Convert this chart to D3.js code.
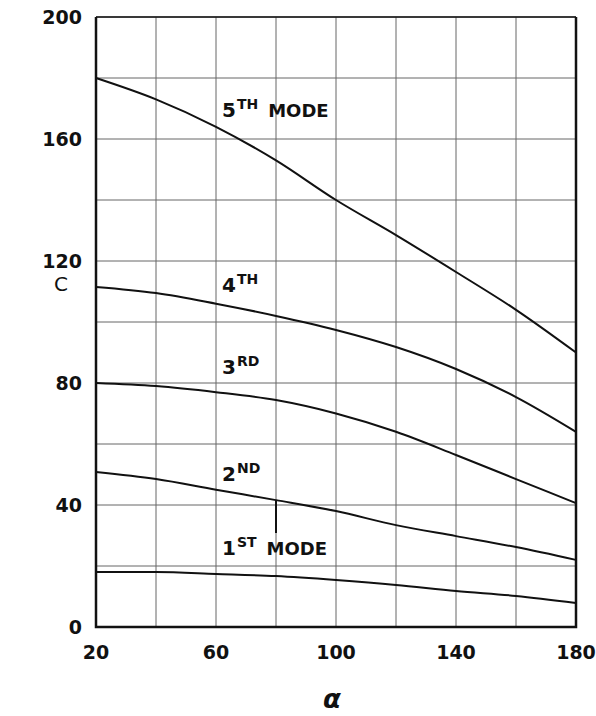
<!DOCTYPE html>
<html>
<head>
<meta charset="utf-8">
<script src="https://cdn.jsdelivr.net/npm/d3@7"></script>
<style>
  body { margin: 0; background: #fff; }
  text { font-family: "DejaVu Sans", "Noto Sans", sans-serif; font-weight: bold; fill: #111; }
</style>
</head>
<body>
<div id="chart"></div>
<script>
const width = 596;
const height = 716;

// values
const alpha = [20, 40, 60, 80, 100, 120, 140, 160, 180];
const mode1 = [18, 18, 17.4, 16.7, 15.4, 13.8, 11.8, 10.2, 7.9];
const mode2 = [50.8, 48.5, 45, 41.6, 38, 33.4, 29.8, 26.2, 22];
const mode3 = [80, 79, 77, 74.4, 70, 64, 56.4, 48.5, 40.6];
const mode4 = [111.5, 109.5, 106, 102, 97.4, 91.8, 84.6, 75.4, 64];
const mode5 = [180, 173, 164, 153, 140, 128.5, 116.4, 104, 90];
const modes = [mode1, mode2, mode3, mode4, mode5];

const xTicks = [20, 60, 100, 140, 180];
const yTicks = [0, 40, 80, 120, 160, 200];
const gridX = d3.range(20, 181, 20);
const gridY = d3.range(0, 201, 20);

// curve labels: number, superscript, trailing word, anchor in data units
const labels = [
  { num: "5", sup: "TH", word: "MODE", a: 62, c: 167.2 },
  { num: "4", sup: "TH", word: "", a: 62, c: 109.8 },
  { num: "3", sup: "RD", word: "", a: 62, c: 83 },
  { num: "2", sup: "ND", word: "", a: 62, c: 47.9 },
  { num: "1", sup: "ST", word: "MODE", a: 62, c: 23.6 }
];

const svg = d3.select("#chart")
  .append("svg")
  .attr("width", width)
  .attr("height", height);

const x = d3.scaleLinear().domain([20, 180]).range([96, 576]);
const y = d3.scaleLinear().domain([0, 200]).range([627, 17]);

// grid
svg.append("g")
  .selectAll("line")
  .data(gridX)
  .join("line")
  .attr("x1", d => x(d)).attr("x2", d => x(d))
  .attr("y1", y(0)).attr("y2", y(200))
  .attr("stroke", "#666")
  .attr("stroke-width", 1);

svg.append("g")
  .selectAll("line")
  .data(gridY)
  .join("line")
  .attr("x1", x(20)).attr("x2", x(180))
  .attr("y1", d => y(d)).attr("y2", d => y(d))
  .attr("stroke", "#666")
  .attr("stroke-width", 1);

// frame
svg.append("line")
  .attr("x1", x(20)).attr("x2", x(180))
  .attr("y1", y(200)).attr("y2", y(200))
  .attr("stroke", "#111").attr("stroke-width", 1.6);
svg.append("path")
  .attr("d", `M${x(20)},${y(200)}V${y(0)}H${x(180)}V${y(200)}`)
  .attr("fill", "none")
  .attr("stroke", "#111")
  .attr("stroke-width", 2.5);

// curves
const line = d3.line()
  .x((d, i) => x(alpha[i]))
  .y(d => y(d))
  .curve(d3.curveMonotoneX);

svg.append("g")
  .selectAll("path")
  .data(modes)
  .join("path")
  .attr("d", line)
  .attr("fill", "none")
  .attr("stroke", "#111")
  .attr("stroke-width", 2);

// leader from 2nd curve down to the 1st mode label
svg.append("line")
  .attr("x1", x(80)).attr("x2", x(80))
  .attr("y1", y(mode2[3])).attr("y2", y(30.8))
  .attr("stroke", "#111")
  .attr("stroke-width", 2);

// labels
const lab = svg.append("g")
  .selectAll("text")
  .data(labels)
  .join("text")
  .attr("x", d => x(d.a))
  .attr("y", d => y(d.c))
  .style("font-size", "20px");

lab.append("tspan").text(d => d.num);
lab.append("tspan")
  .attr("dy", -8)
  .attr("dx", 1)
  .style("font-size", "14px")
  .text(d => d.sup);
lab.append("tspan")
  .attr("dy", 8)
  .attr("dx", 10)
  .style("font-size", "18px")
  .text(d => d.word);

// tick labels
svg.append("g")
  .selectAll("text")
  .data(yTicks)
  .join("text")
  .attr("x", 82)
  .attr("y", d => y(d))
  .attr("dy", "0.36em")
  .attr("text-anchor", "end")
  .style("font-size", "19px")
  .text(d => d);

svg.append("g")
  .selectAll("text")
  .data(xTicks)
  .join("text")
  .attr("x", d => x(d))
  .attr("y", 659)
  .attr("text-anchor", "middle")
  .style("font-size", "19px")
  .text(d => d);

// axis titles
svg.append("text")
  .attr("x", 61)
  .attr("y", 291)
  .attr("text-anchor", "middle")
  .style("font-size", "20px")
  .style("font-weight", "normal")
  .text("C");

svg.append("text")
  .attr("x", 332)
  .attr("y", 708)
  .attr("text-anchor", "middle")
  .style("font-size", "26px")
  .style("font-style", "italic")
  .text("α");
</script>
</body>
</html>
